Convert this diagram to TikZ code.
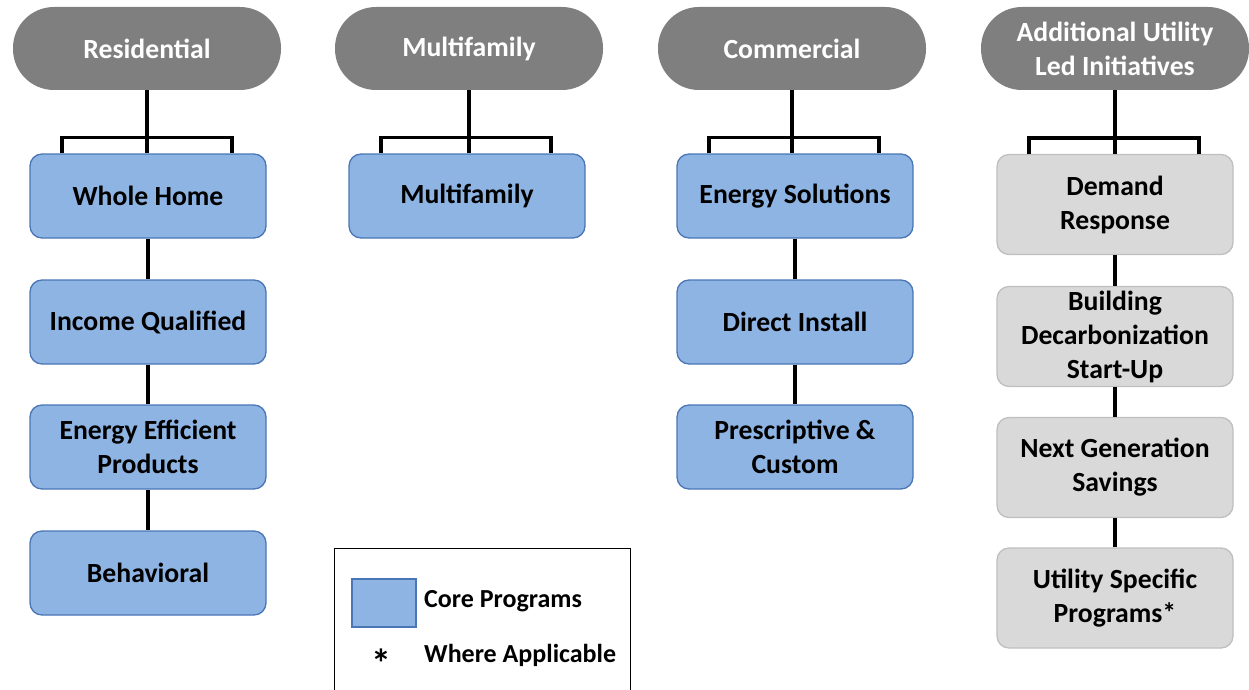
\documentclass[tikz,border=0pt]{standalone}
\usepackage{fontspec}
\setmainfont{Carlito}
\begin{document}
\begin{tikzpicture}[x=1pt,y=-1pt,
  lbl/.style={font=\fontsize{27.7}{34}\selectfont\bfseries, align=center},
  leg/.style={font=\fontsize{26}{32}\selectfont\bfseries},
  hdr/.style={lbl, fill=hdrgray, text=white, rounded corners=41pt, minimum width=268pt, minimum height=83pt, inner sep=0pt},
  core/.style={lbl, fill=coreblue, draw=coreedge, line width=1.3pt, rounded corners=12pt, minimum width=236pt, minimum height=84pt, inner sep=0pt},
  util/.style={lbl, fill=utilfill, draw=utiledge, line width=1.3pt, rounded corners=12pt, minimum width=236pt, minimum height=100pt, inner sep=0pt},
  conn/.style={draw=black, line width=3.5pt},
]
\definecolor{hdrgray}{HTML}{7F7F7F}
\definecolor{coreblue}{HTML}{8EB4E3}
\definecolor{coreedge}{HTML}{4A76B5}
\definecolor{utilfill}{HTML}{D9D9D9}
\definecolor{utiledge}{HTML}{BFBFBF}
\useasboundingbox (0,0) rectangle (1249,690);

% headers
\node[hdr] (h1) at (147,48.5) {Residential};
\node[hdr] (h2) at (469,48.5) {Multifamily};
\node[hdr] (h3) at (792,48.5) {Commercial};
\node[hdr] (h4) at (1115,48.5) {Additional Utility\\Led Initiatives};

% residential
\node[core] (r1) at (148,196) {Whole Home};
\node[core] (r2) at (148,322) {Income Qualified};
\node[core] (r3) at (148,447) {Energy Efficient\\Products};
\node[core] (r4) at (148,573) {Behavioral};

% multifamily
\node[core] (m1) at (467,196) {Multifamily};

% commercial
\node[core] (c1) at (795,196) {Energy Solutions};
\node[core] (c2) at (795,322) {Direct Install};
\node[core] (c3) at (795,447) {Prescriptive \&\\Custom};

% utility
\node[util] (u1) at (1115,204.5) {Demand\\Response};
\node[util] (u2) at (1115,336.5) {Building\\Decarbonization\\Start-Up};
\node[util] (u3) at (1115,467.5) {Next Generation\\Savings};
\node[util] (u4) at (1115,598) {Utility Specific\\Programs*};

% header connectors with brackets
\foreach \h/\b in {h1/r1,h2/m1,h3/c1,h4/u1}{
  \draw[conn] (\h.south) -- (\h.south |- \b.north);
  \draw[conn] ([xshift=-86pt]\b.north) -- ++(0,-16) -| ([xshift=84pt]\b.north);
}

% chains
\draw[conn] (r1) -- (r2);
\draw[conn] (r2) -- (r3);
\draw[conn] (r3) -- (r4);
\draw[conn] (c1) -- (c2);
\draw[conn] (c2) -- (c3);
\draw[conn] (u1) -- (u2);
\draw[conn] (u2) -- (u3);
\draw[conn] (u3) -- (u4);

% legend
\draw[line width=1pt] (334,692) -- (334,548) -- (630,548) -- (630,692);
\node[fill=coreblue, draw=coreedge, line width=1.3pt, minimum width=64pt, minimum height=48pt, inner sep=0pt] (lg) at (384,603) {};
\node[leg, anchor=west, inner sep=0pt] (lt1) at (424,601) {Core Programs};
\node[font=\fontsize{40}{40}\selectfont\bfseries, inner sep=0pt] (ls) at (381,663) {*};
\node[leg, anchor=west, inner sep=0pt] (lt2) at (424,655) {Where Applicable};
\end{tikzpicture}
\end{document}
